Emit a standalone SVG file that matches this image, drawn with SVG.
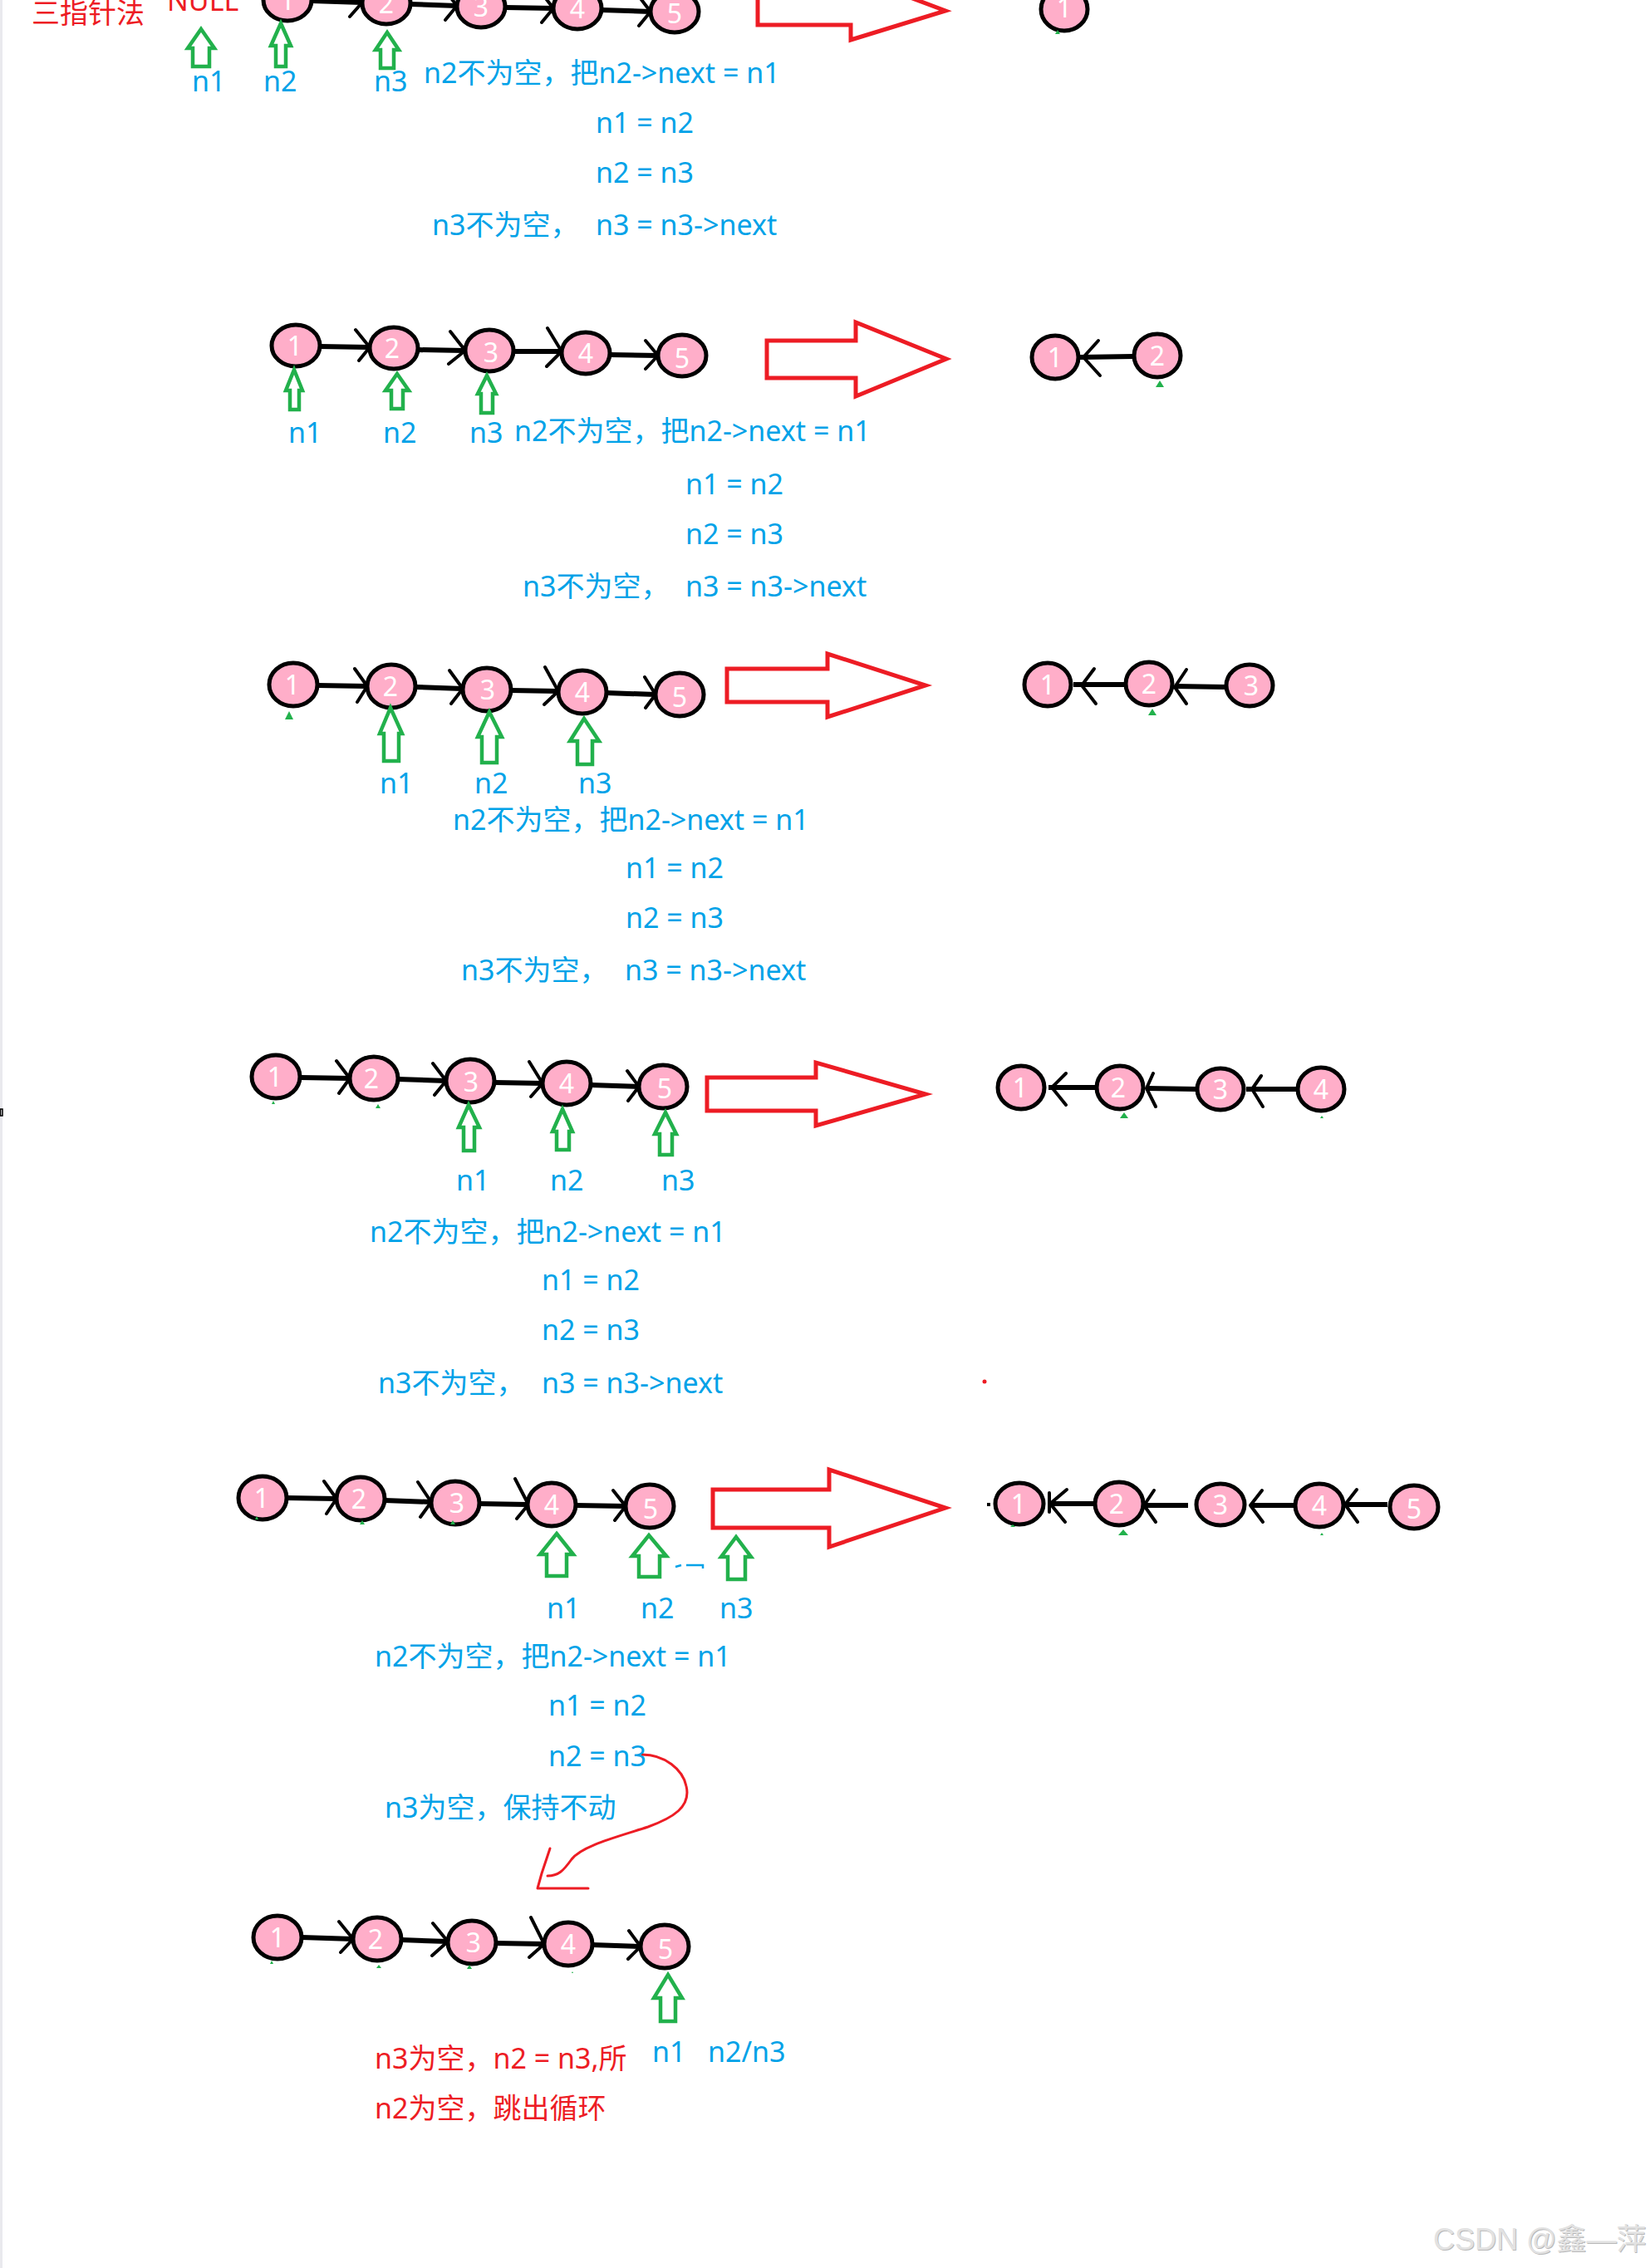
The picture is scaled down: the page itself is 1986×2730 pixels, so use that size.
<svg xmlns="http://www.w3.org/2000/svg" width="1986" height="2730" viewBox="0 0 1986 2730">
<style>
.b{fill:#00a2e8;font-family:"Noto Sans","Noto Sans CJK SC",sans-serif;font-size:34px}
.r{fill:#ed1c24;font-family:"Noto Sans","Noto Sans CJK SC",sans-serif;font-size:34px}
.nd{fill:#ffaec9;stroke:#000;stroke-width:5}
.nt{fill:#fff;font-family:"Noto Sans",sans-serif;font-size:32px;text-anchor:middle}
.ln{stroke:#000;stroke-width:6;fill:none}
.ch{stroke:#000;stroke-width:4;fill:none;stroke-linecap:round;stroke-linejoin:round}
.ga{fill:none;stroke:#22b14c;stroke-width:4.5;stroke-linejoin:miter}
.ra{fill:none;stroke:#ed1c24;stroke-width:5;stroke-linejoin:miter}
.gt{fill:#22b14c}
.rc{fill:none;stroke:#ed1c24;stroke-width:3;stroke-linecap:round;stroke-linejoin:round}
.wm{font-family:"Liberation Sans","Noto Sans CJK SC",sans-serif;font-size:36px}
</style>
<rect x="0" y="0" width="1986" height="2730" fill="#fff"/>
<rect x="0" y="0" width="3" height="2730" fill="#e9e9ee"/>
<rect x="0.5" y="1335" width="2.5" height="8" fill="none" stroke="#000" stroke-width="1.5"/>

<!-- connectors -->
<g id="connectors">
  <!-- S1 -->
  <path class="ln" d="M375,1 L436,3 M494,5 L550,7 M608,9 L666,10 M724,12 L783,14"/>
  <path class="ch" d="M420,-18 L436,3 L421,20 M534,-14 L550,7 L536,24 M650,-11 L666,10 L652,27 M767,-7 L783,14 L769,31"/>
  <!-- S2 -->
  <path class="ln" d="M385,417 L444,418 M502,421 L559,422 M617,423 L676,423 M734,427 L792,428"/>
  <path class="ch" d="M428,397 L445,418 L432,434 M542,399 L560,422 L540,438 M659,395 L676,423 L658,441 M777,410 L792,428 L777,444"/>
  <path class="ln" d="M1364,429 L1300,430"/>
  <path class="ch" d="M1322,410 L1304,430 L1324,452"/>
  <!-- S3 -->
  <path class="ln" d="M382,825 L442,826 M500,827 L557,829 M615,831 L672,832 M730,834 L789,836"/>
  <path class="ch" d="M427,805 L442,826 L430,845 M541,807 L557,829 L543,847 M656,803 L672,832 L655,848 M776,815 L789,836 L777,852"/>
  <path class="ln" d="M1354,824 L1292,824 M1475,827 L1414,826"/>
  <path class="ch" d="M1317,805 L1302,825 L1319,847 M1428,806 L1414,827 L1428,847"/>
  <!-- S4 -->
  <path class="ln" d="M361,1297 L421,1298 M479,1299 L537,1301 M595,1303 L653,1304 M711,1306 L769,1308"/>
  <path class="ch" d="M405,1277 L421,1298 L408,1316 M521,1280 L537,1301 L523,1318 M637,1278 L653,1304 L639,1320 M755,1289 L769,1308 L756,1325"/>
  <path class="ln" d="M1319,1309 L1262,1309 M1440,1311 L1380,1310 M1561,1311 L1500,1311"/>
  <path class="ch" d="M1283,1292 L1266,1309 L1283,1330 M1388,1292 L1380,1310 L1391,1332 M1518,1295 L1507,1311 L1520,1332"/>
  <!-- S5 -->
  <path class="ln" d="M345,1803 L405,1804 M463,1806 L519,1808 M577,1810 L635,1811 M693,1812 L753,1813"/>
  <path class="ch" d="M390,1783 L405,1804 L393,1822 M503,1784 L519,1808 L506,1826 M620,1780 L636,1811 L622,1828 M738,1794 L753,1813 L740,1830"/>
  <path class="ln" d="M1318,1810 L1263,1810 M1430,1812 L1378,1812 M1558,1812 L1507,1812 M1670,1811 L1620,1811"/>
  <path class="ch" d="M1284,1793 L1264,1810 L1282,1832 M1263,1797 L1263,1820 M1389,1794 L1377,1812 L1391,1832 M1519,1794 L1505,1812 L1520,1832 M1633,1793 L1619,1811 L1634,1832"/>
  <rect x="1188" y="1809" width="4" height="4" fill="#000"/>
  <!-- S6 -->
  <path class="ln" d="M363,2332 L425,2334 M483,2335 L539,2337 M597,2339 L655,2340 M713,2341 L771,2343"/>
  <path class="ch" d="M408,2313 L425,2334 L410,2350 M521,2315 L539,2337 L520,2354 M639,2308 L655,2340 L637,2356 M757,2324 L771,2343 L756,2358"/>
</g>

<!-- nodes S1 -->
<g id="s1-n1"><ellipse class="nd" cx="346" cy="0" rx="29" ry="25"/><text class="nt" x="346" y="12">1</text></g>
<g id="s1-n2"><ellipse class="nd" cx="465" cy="4" rx="29" ry="25"/><text class="nt" x="465" y="16">2</text></g>
<g id="s1-n3"><ellipse class="nd" cx="579" cy="8" rx="29" ry="25"/><text class="nt" x="579" y="20">3</text></g>
<g id="s1-n4"><ellipse class="nd" cx="695" cy="10" rx="29" ry="25"/><text class="nt" x="695" y="22">4</text></g>
<g id="s1-n5"><ellipse class="nd" cx="812" cy="14" rx="29" ry="25"/><text class="nt" x="812" y="28">5</text></g>
<g id="s1-r1"><ellipse class="nd" cx="1281" cy="11" rx="28" ry="26"/><text class="nt" x="1281" y="21">1</text></g>

<!-- nodes S2 -->
<g id="s2-n1"><ellipse class="nd" cx="356" cy="416" rx="29" ry="25"/><text class="nt" x="355" y="428">1</text></g>
<g id="s2-n2"><ellipse class="nd" cx="474" cy="419" rx="29" ry="25"/><text class="nt" x="472" y="431">2</text></g>
<g id="s2-n3"><ellipse class="nd" cx="589" cy="422" rx="29" ry="25"/><text class="nt" x="591" y="436">3</text></g>
<g id="s2-n4"><ellipse class="nd" cx="705" cy="425" rx="29" ry="25"/><text class="nt" x="705" y="437">4</text></g>
<g id="s2-n5"><ellipse class="nd" cx="821" cy="428" rx="29" ry="25"/><text class="nt" x="821" y="443">5</text></g>
<g id="s2-r1"><ellipse class="nd" cx="1270" cy="430" rx="28" ry="26"/><text class="nt" x="1270" y="442">1</text></g>
<g id="s2-r2"><ellipse class="nd" cx="1393" cy="428" rx="28" ry="26"/><text class="nt" x="1393" y="440">2</text></g>

<!-- nodes S3 -->
<g id="s3-n1"><ellipse class="nd" cx="353" cy="824" rx="29" ry="26"/><text class="nt" x="352" y="836">1</text></g>
<g id="s3-n2"><ellipse class="nd" cx="471" cy="826" rx="29" ry="26"/><text class="nt" x="470" y="838">2</text></g>
<g id="s3-n3"><ellipse class="nd" cx="586" cy="830" rx="29" ry="26"/><text class="nt" x="587" y="842">3</text></g>
<g id="s3-n4"><ellipse class="nd" cx="701" cy="833" rx="29" ry="26"/><text class="nt" x="701" y="845">4</text></g>
<g id="s3-n5"><ellipse class="nd" cx="818" cy="836" rx="29" ry="26"/><text class="nt" x="818" y="851">5</text></g>
<g id="s3-r1"><ellipse class="nd" cx="1261" cy="824" rx="28" ry="26"/><text class="nt" x="1261" y="836">1</text></g>
<g id="s3-r2"><ellipse class="nd" cx="1383" cy="823" rx="28" ry="26"/><text class="nt" x="1383" y="835">2</text></g>
<g id="s3-r3"><ellipse class="nd" cx="1504" cy="825" rx="28" ry="25"/><text class="nt" x="1506" y="837">3</text></g>

<!-- nodes S4 -->
<g id="s4-n1"><ellipse class="nd" cx="332" cy="1296" rx="29" ry="26"/><text class="nt" x="331" y="1308">1</text></g>
<g id="s4-n2"><ellipse class="nd" cx="450" cy="1298" rx="29" ry="26"/><text class="nt" x="447" y="1310">2</text></g>
<g id="s4-n3"><ellipse class="nd" cx="566" cy="1301" rx="29" ry="26"/><text class="nt" x="567" y="1314">3</text></g>
<g id="s4-n4"><ellipse class="nd" cx="682" cy="1304" rx="29" ry="26"/><text class="nt" x="682" y="1316">4</text></g>
<g id="s4-n5"><ellipse class="nd" cx="798" cy="1308" rx="29" ry="26"/><text class="nt" x="800" y="1322">5</text></g>
<g id="s4-r1"><ellipse class="nd" cx="1229" cy="1309" rx="28" ry="26"/><text class="nt" x="1228" y="1321">1</text></g>
<g id="s4-r2"><ellipse class="nd" cx="1348" cy="1309" rx="28" ry="26"/><text class="nt" x="1346" y="1321">2</text></g>
<g id="s4-r3"><ellipse class="nd" cx="1469" cy="1311" rx="28" ry="25"/><text class="nt" x="1469" y="1323">3</text></g>
<g id="s4-r4"><ellipse class="nd" cx="1590" cy="1311" rx="28" ry="26"/><text class="nt" x="1590" y="1323">4</text></g>

<!-- nodes S5 -->
<g id="s5-n1"><ellipse class="nd" cx="316" cy="1803" rx="29" ry="26"/><text class="nt" x="315" y="1815">1</text></g>
<g id="s5-n2"><ellipse class="nd" cx="434" cy="1804" rx="29" ry="26"/><text class="nt" x="432" y="1816">2</text></g>
<g id="s5-n3"><ellipse class="nd" cx="548" cy="1809" rx="29" ry="26"/><text class="nt" x="550" y="1821">3</text></g>
<g id="s5-n4"><ellipse class="nd" cx="664" cy="1811" rx="29" ry="26"/><text class="nt" x="664" y="1823">4</text></g>
<g id="s5-n5"><ellipse class="nd" cx="782" cy="1813" rx="29" ry="26"/><text class="nt" x="783" y="1828">5</text></g>
<g id="s5-r1"><ellipse class="nd" cx="1227" cy="1810" rx="29" ry="25"/><text class="nt" x="1226" y="1822">1</text></g>
<g id="s5-r2"><ellipse class="nd" cx="1347" cy="1810" rx="29" ry="26"/><text class="nt" x="1344" y="1822">2</text></g>
<g id="s5-r3"><ellipse class="nd" cx="1469" cy="1811" rx="29" ry="25"/><text class="nt" x="1469" y="1823">3</text></g>
<g id="s5-r4"><ellipse class="nd" cx="1588" cy="1812" rx="29" ry="26"/><text class="nt" x="1588" y="1824">4</text></g>
<g id="s5-r5"><ellipse class="nd" cx="1702" cy="1814" rx="29" ry="26"/><text class="nt" x="1702" y="1828">5</text></g>

<!-- nodes S6 -->
<g id="s6-n1"><ellipse class="nd" cx="334" cy="2332" rx="29" ry="26"/><text class="nt" x="334" y="2344">1</text></g>
<g id="s6-n2"><ellipse class="nd" cx="454" cy="2334" rx="29" ry="26"/><text class="nt" x="452" y="2346">2</text></g>
<g id="s6-n3"><ellipse class="nd" cx="568" cy="2338" rx="29" ry="26"/><text class="nt" x="570" y="2350">3</text></g>
<g id="s6-n4"><ellipse class="nd" cx="684" cy="2340" rx="29" ry="26"/><text class="nt" x="684" y="2352">4</text></g>
<g id="s6-n5"><ellipse class="nd" cx="800" cy="2343" rx="29" ry="26"/><text class="nt" x="801" y="2358">5</text></g>

<!-- green pointer arrows -->
<g id="pointers">
  <path class="ga" d="M242,35 L258,58 L252,58 L252,80 L232,80 L232,58 L226,58 Z"/>
  <path class="ga" d="M338,28 L350,55 L344,55 L344,80 L332,80 L332,55 L326,55 Z"/>
  <path class="ga" d="M466,39 L480,60 L474,60 L474,82 L458,82 L458,60 L452,60 Z"/>
  <path class="ga" d="M354,445 L364,470 L360,470 L360,493 L349,493 L349,470 L344,470 Z"/>
  <path class="ga" d="M478,450 L492,470 L485,470 L485,492 L471,492 L471,470 L464,470 Z"/>
  <path class="ga" d="M586,452 L597,474 L593,474 L593,497 L579,497 L579,474 L575,474 Z"/>
  <path class="ga" d="M470,852 L484,883 L480,883 L480,916 L462,916 L462,883 L457,883 Z"/>
  <path class="ga" d="M589,857 L604,887 L598,887 L598,918 L580,918 L580,887 L575,887 Z"/>
  <path class="ga" d="M703,865 L721,892 L713,892 L713,920 L695,920 L695,892 L686,892 Z"/>
  <path class="ga" d="M564,1330 L577,1357 L571,1357 L571,1385 L558,1385 L558,1357 L552,1357 Z"/>
  <path class="ga" d="M677,1335 L689,1362 L685,1362 L685,1384 L670,1384 L670,1362 L665,1362 Z"/>
  <path class="ga" d="M801,1339 L814,1365 L809,1365 L809,1390 L794,1390 L794,1365 L788,1365 Z"/>
  <path class="ga" d="M670,1846 L690,1871 L682,1871 L682,1897 L658,1897 L658,1871 L650,1871 Z"/>
  <path class="ga" d="M781,1848 L802,1873 L794,1873 L794,1898 L769,1898 L769,1873 L761,1873 Z"/>
  <path class="ga" d="M886,1850 L904,1874 L897,1874 L897,1901 L876,1901 L876,1874 L868,1874 Z"/>
  <path class="ga" d="M804,2377 L821,2405 L813,2405 L813,2433 L795,2433 L795,2405 L787,2405 Z"/>
  <!-- small green remnants -->
  <path class="gt" d="M1273,36 L1276,41 L1270,41 Z"/>
  <path class="gt" d="M1396,458 L1401,466 L1391,466 Z"/>
  <path class="gt" d="M348,856 L353,866 L343,866 Z"/>
  <path class="gt" d="M1387,853 L1392,861 L1382,861 Z"/>
  <path class="gt" d="M329,1325 L331,1329 L327,1329 Z"/>
  <path class="gt" d="M455,1329 L458,1334 L452,1334 Z"/>
  <path class="gt" d="M1353,1339 L1358,1346 L1348,1346 Z"/>
  <path class="gt" d="M1591,1343 L1593,1346 L1589,1346 Z"/>
  <path class="gt" d="M309,1825 L311,1829 L307,1829 Z"/>
  <path class="gt" d="M436,1830 L439,1835 L433,1835 Z"/>
  <path class="gt" d="M545,1830 L548,1835 L542,1835 Z"/>
  <path class="gt" d="M1219,1835 L1222,1838 L1216,1838 Z"/>
  <path class="gt" d="M1352,1841 L1358,1848 L1346,1848 Z"/>
  <path class="gt" d="M1591,1845 L1593,1848 L1589,1848 Z"/>
  <path class="gt" d="M327,2360 L329,2364 L325,2364 Z"/>
  <path class="gt" d="M456,2365 L459,2369 L453,2369 Z"/>
  <path class="gt" d="M565,2365 L568,2370 L562,2370 Z"/>
  <path class="gt" d="M689,2373 L690,2375 L688,2375 Z"/>
</g>

<!-- red block arrows -->
<g id="step-arrows">
  <path class="ra" d="M912,-20 L912,30 L1024,30 L1024,48 L1138,13 L1024,-30"/>
  <path class="ra" d="M923,410 L1030,410 L1030,388 L1139,432 L1030,477 L1030,455 L923,455 Z"/>
  <path class="ra" d="M875,805 L996,805 L996,787 L1114,825 L996,863 L996,845 L875,845 Z"/>
  <path class="ra" d="M851,1297 L982,1297 L982,1279 L1114,1317 L982,1355 L982,1337 L851,1337 Z"/>
  <path class="ra" d="M858,1793 L998,1793 L998,1769 L1138,1815 L998,1862 L998,1839 L858,1839 Z"/>
</g>

<!-- red curve annotation -->
<g id="curve">
  <path class="rc" d="M773,2112 C800,2112 822,2130 826,2150 C832,2175 810,2188 780,2199 C740,2212 700,2222 688,2238 C678,2252 672,2258 659,2258"/>
  <path class="rc" d="M662,2225 L652,2255 L647,2273 L708,2273"/>
</g>
<circle cx="1185" cy="1663" r="2.5" fill="#ed1c24"/>
<path d="M813,1886 L820,1884 M826,1884 L846,1884 L846,1888" stroke="#00a2e8" stroke-width="2.5" fill="none"/>

<!-- texts -->
<g id="texts">
  <text class="r" x="38" y="28">三指针法</text>
  <text class="r" x="201" y="13">NULL</text>

  <text class="b" x="231" y="110">n1</text>
  <text class="b" x="317" y="110">n2</text>
  <text class="b" x="450" y="110">n3</text>
  <text class="b" x="510" y="100">n2不为空，把n2-&gt;next = n1</text>
  <text class="b" x="717" y="160">n1 = n2</text>
  <text class="b" x="717" y="220">n2 = n3</text>
  <text class="b" x="520" y="283">n3不为空，</text>
  <text class="b" x="717" y="283">n3 = n3-&gt;next</text>

  <text class="b" x="347" y="533">n1</text>
  <text class="b" x="461" y="533">n2</text>
  <text class="b" x="565" y="533">n3</text>
  <text class="b" x="619" y="531">n2不为空，把n2-&gt;next = n1</text>
  <text class="b" x="825" y="595">n1 = n2</text>
  <text class="b" x="825" y="655">n2 = n3</text>
  <text class="b" x="629" y="718">n3不为空，</text>
  <text class="b" x="825" y="718">n3 = n3-&gt;next</text>

  <text class="b" x="457" y="955">n1</text>
  <text class="b" x="571" y="955">n2</text>
  <text class="b" x="696" y="955">n3</text>
  <text class="b" x="545" y="999">n2不为空，把n2-&gt;next = n1</text>
  <text class="b" x="753" y="1057">n1 = n2</text>
  <text class="b" x="753" y="1117">n2 = n3</text>
  <text class="b" x="555" y="1180">n3不为空，</text>
  <text class="b" x="752" y="1180">n3 = n3-&gt;next</text>

  <text class="b" x="549" y="1433">n1</text>
  <text class="b" x="662" y="1433">n2</text>
  <text class="b" x="796" y="1433">n3</text>
  <text class="b" x="445" y="1495">n2不为空，把n2-&gt;next = n1</text>
  <text class="b" x="652" y="1553">n1 = n2</text>
  <text class="b" x="652" y="1613">n2 = n3</text>
  <text class="b" x="455" y="1677">n3不为空，</text>
  <text class="b" x="652" y="1677">n3 = n3-&gt;next</text>

  <text class="b" x="658" y="1948">n1</text>
  <text class="b" x="771" y="1948">n2</text>
  <text class="b" x="866" y="1948">n3</text>
  <text class="b" x="451" y="2006">n2不为空，把n2-&gt;next = n1</text>
  <text class="b" x="660" y="2065">n1 = n2</text>
  <text class="b" x="660" y="2126">n2 = n3</text>
  <text class="b" x="463" y="2188">n3为空，保持不动</text>

  <text class="r" x="451" y="2490">n3为空，n2 = n3,所</text>
  <text class="b" x="785" y="2482">n1</text>
  <text class="b" x="852" y="2482">n2/n3</text>
  <text class="r" x="451" y="2550">n2为空，跳出循环</text>
</g>

<g id="watermark">
  <text class="wm" x="1726" y="2709" fill="#b8b8b8">CSDN @鑫—萍</text>
  <text class="wm" x="1725" y="2708" fill="#e2e2e2">CSDN @鑫—萍</text>
</g>
</svg>
